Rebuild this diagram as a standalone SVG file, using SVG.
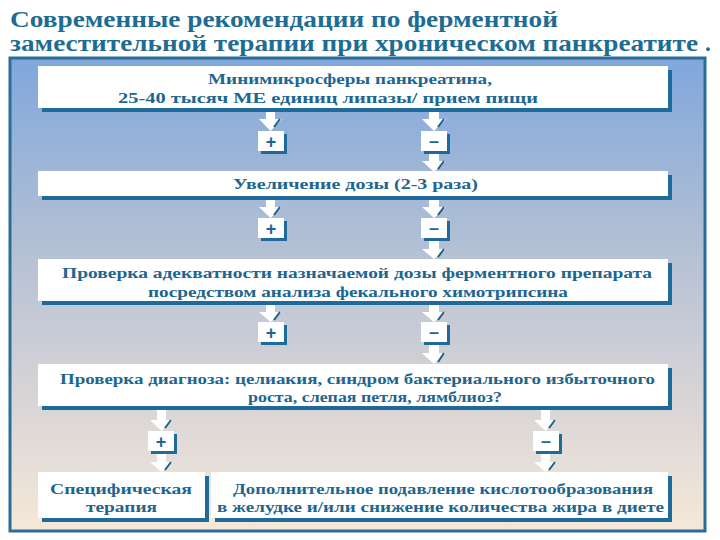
<svg xmlns="http://www.w3.org/2000/svg" width="720" height="540" viewBox="0 0 720 540">
<defs>
<linearGradient id="bg" x1="0" y1="0" x2="0" y2="1">
<stop offset="0" stop-color="#80a7dc"/>
<stop offset="0.4" stop-color="#b3c0d4"/>
<stop offset="0.7" stop-color="#d6d3d6"/>
<stop offset="1" stop-color="#f5e8d8"/>
</linearGradient>
<style>
.t{font-family:"Liberation Serif","Times New Roman",serif;font-weight:bold;fill:#1d6690;font-size:15.5px}
.title{font-family:"Liberation Serif","Times New Roman",serif;font-weight:bold;fill:#1f6c92;font-size:23px}
.box{fill:#ffffff}
.sh{fill:#1e6a9a}
.arr{fill:#ffffff}
.slash{stroke:#1e5f86;stroke-width:2;fill:none}
.sg{font-family:"Liberation Sans",Arial,sans-serif;font-weight:bold;fill:#1d6690;text-anchor:middle;font-size:18px}
</style>
</defs>
<rect x="0" y="0" width="720" height="540" fill="#ffffff"/>
<g id="title">
<text class="title" x="10" y="27" textLength="548" lengthAdjust="spacingAndGlyphs">Современные рекомендации по ферментной</text>
<text class="title" x="10" y="51" textLength="688" lengthAdjust="spacingAndGlyphs">заместительной терапии при хроническом панкреатите</text>
<text class="title" x="705" y="51" font-size="14">.</text>
</g>
<rect x="10" y="58" width="695" height="473" fill="url(#bg)" stroke="#2a6e98" stroke-width="3"/>

<g id="connectors">
<polygon class="arr" points="266,110 275,110 275,119 282,119 270.5,131 259,119 266,119"/>
<line class="slash" x1="274" y1="127" x2="280" y2="119"/>
<polygon class="arr" points="429,110 439,110 439,119 446,119 434,131 422,119 429,119"/>
<line class="slash" x1="438" y1="127" x2="444" y2="119"/>
<polygon class="arr" points="429,152 439,152 439,161 446,161 434,172 422,161 429,161"/>
<line class="slash" x1="438" y1="169" x2="444" y2="161"/>
<polygon class="arr" points="266,199 275,199 275,207 282,207 270.5,218 259,207 266,207"/>
<line class="slash" x1="274" y1="215" x2="280" y2="207"/>
<polygon class="arr" points="429,199 439,199 439,207 446,207 434,218 422,207 429,207"/>
<line class="slash" x1="438" y1="215" x2="444" y2="207"/>
<polygon class="arr" points="429,240 439,240 439,249 446,249 434,259 422,249 429,249"/>
<line class="slash" x1="438" y1="257" x2="444" y2="249"/>
<polygon class="arr" points="266,305 275,305 275,312 282,312 270.5,322 259,312 266,312"/>
<line class="slash" x1="274" y1="320" x2="280" y2="312"/>
<polygon class="arr" points="429,305 439,305 439,312 446,312 434,322 422,312 429,312"/>
<line class="slash" x1="438" y1="320" x2="444" y2="312"/>
<polygon class="arr" points="429,344 439,344 439,353 446,353 434,364 422,353 429,353"/>
<line class="slash" x1="438" y1="362" x2="444" y2="353"/>
<polygon class="arr" points="157,410 166,410 166,420 173,420 161.5,431 150,420 157,420"/>
<line class="slash" x1="165" y1="428" x2="171" y2="420"/>
<polygon class="arr" points="541,410 550,410 550,420 557,420 545.5,431 534,420 541,420"/>
<line class="slash" x1="549" y1="428" x2="555" y2="420"/>
<polygon class="arr" points="157,453 166,453 166,462 173,462 161.5,472 150,462 157,462"/>
<line class="slash" x1="165" y1="470" x2="171" y2="462"/>
<polygon class="arr" points="541,453 550,453 550,462 557,462 545.5,472 534,462 541,462"/>
<line class="slash" x1="549" y1="470" x2="555" y2="462"/>
</g>

<g id="box1">
<rect class="sh" x="42" y="70" width="630" height="42"/>
<rect class="box" x="38" y="66" width="630" height="42"/>
<text class="t" x="208" y="84" textLength="284" lengthAdjust="spacingAndGlyphs">Минимикросферы панкреатина,</text>
<text class="t" x="118" y="103" textLength="420" lengthAdjust="spacingAndGlyphs">25-40 тысяч МЕ единиц липазы/ прием пищи</text>
</g>
<g id="box2">
<rect class="sh" x="42" y="175" width="630" height="25"/>
<rect class="box" x="38" y="171" width="630" height="25"/>
<text class="t" x="233" y="189" textLength="245" lengthAdjust="spacingAndGlyphs">Увеличение дозы (2-3 раза)</text>
</g>
<g id="box3">
<rect class="sh" x="42" y="263" width="630" height="42"/>
<rect class="box" x="38" y="259" width="630" height="42"/>
<text class="t" x="62" y="278" textLength="590" lengthAdjust="spacingAndGlyphs">Проверка адекватности назначаемой дозы ферментного препарата</text>
<text class="t" x="148" y="297" textLength="420" lengthAdjust="spacingAndGlyphs">посредством анализа фекального химотрипсина</text>
</g>
<g id="box4">
<rect class="sh" x="42" y="368" width="630" height="42"/>
<rect class="box" x="38" y="364" width="630" height="42"/>
<text class="t" x="60" y="384" textLength="595" lengthAdjust="spacingAndGlyphs">Проверка диагноза: целиакия, синдром бактериального избыточного</text>
<text class="t" x="248" y="402" textLength="254" lengthAdjust="spacingAndGlyphs">роста, слепая петля, лямблиоз?</text>
</g>
<g id="box5a">
<rect class="sh" x="42" y="476" width="167" height="46"/>
<rect class="box" x="38" y="472" width="167" height="46"/>
<text class="t" x="50" y="494" textLength="142" lengthAdjust="spacingAndGlyphs">Специфическая</text>
<text class="t" x="86" y="512" textLength="71" lengthAdjust="spacingAndGlyphs">терапия</text>
</g>
<g id="box5b">
<rect class="sh" x="215" y="476" width="457" height="46"/>
<rect class="box" x="211" y="472" width="457" height="46"/>
<text class="t" x="233" y="494" textLength="420" lengthAdjust="spacingAndGlyphs">Дополнительное подавление кислотообразования</text>
<text class="t" x="217" y="512" textLength="447" lengthAdjust="spacingAndGlyphs">в желудке и/или снижение количества жира в диете</text>
</g>

<g id="plus1"><rect class="sh" x="261" y="134" width="26" height="20"/><rect class="box" x="258" y="131" width="26" height="20"/><text class="sg" x="271" y="148">+</text></g>
<g id="minus1"><rect class="sh" x="424" y="134" width="26" height="20"/><rect class="box" x="421" y="131" width="26" height="20"/><text class="sg" x="434" y="147">–</text></g>
<g id="plus2"><rect class="sh" x="261" y="221" width="26" height="20"/><rect class="box" x="258" y="218" width="26" height="20"/><text class="sg" x="271" y="235">+</text></g>
<g id="minus2"><rect class="sh" x="424" y="221" width="26" height="20"/><rect class="box" x="421" y="218" width="26" height="20"/><text class="sg" x="434" y="234">–</text></g>
<g id="plus3"><rect class="sh" x="261" y="325" width="26" height="20"/><rect class="box" x="258" y="322" width="26" height="20"/><text class="sg" x="271" y="339">+</text></g>
<g id="minus3"><rect class="sh" x="424" y="325" width="26" height="20"/><rect class="box" x="421" y="322" width="26" height="20"/><text class="sg" x="434" y="338">–</text></g>
<g id="plus4"><rect class="sh" x="151" y="434" width="26" height="20"/><rect class="box" x="148" y="431" width="26" height="20"/><text class="sg" x="161" y="448">+</text></g>
<g id="minus4"><rect class="sh" x="536" y="434" width="26" height="20"/><rect class="box" x="533" y="431" width="26" height="20"/><text class="sg" x="546" y="447">–</text></g>
</svg>
